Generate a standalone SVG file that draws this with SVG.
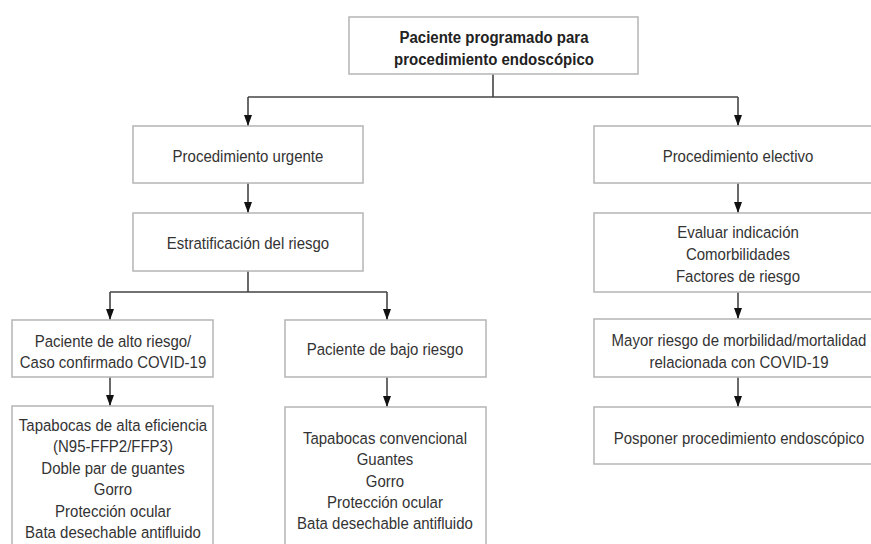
<svg xmlns="http://www.w3.org/2000/svg" width="871" height="544" viewBox="0 0 871 544">
<style>
.box{fill:#fff;stroke:#b9b9b9;stroke-width:1.6}
.t{font-family:"Liberation Sans",Arial,sans-serif;font-size:15px;fill:#333;text-anchor:middle;transform-box:fill-box;transform-origin:center;transform:scaleY(1.12)}
.b{font-weight:bold;font-size:15px;fill:#222}
.c{fill:none;stroke:#444;stroke-width:1.6}
</style>
<defs>
<marker id="ah" markerUnits="userSpaceOnUse" viewBox="0 0 11 8" refX="11" refY="4" markerWidth="11" markerHeight="8" orient="auto">
<path d="M0,0 L11,4 L0,8 z" fill="#111"/>
</marker>
</defs>
<rect width="871" height="544" fill="#fff"/>
<g id="connectors">
<path class="c" d="M493,74 V97"/>
<path class="c" d="M248,97 H738"/>
<path class="c" d="M248,97 V126" marker-end="url(#ah)"/>
<path class="c" d="M738,97 V126" marker-end="url(#ah)"/>
<path class="c" d="M248,183 V213" marker-end="url(#ah)"/>
<path class="c" d="M248,271 V292 M110,292 H387"/>
<path class="c" d="M110,292 V320" marker-end="url(#ah)"/>
<path class="c" d="M387,292 V320" marker-end="url(#ah)"/>
<path class="c" d="M110,377 V406" marker-end="url(#ah)"/>
<path class="c" d="M387,377 V407" marker-end="url(#ah)"/>
<path class="c" d="M738,183 V213" marker-end="url(#ah)"/>
<path class="c" d="M738,292 V319" marker-end="url(#ah)"/>
<path class="c" d="M738,377 V407" marker-end="url(#ah)"/>
</g>
<g id="n_inicio">
<rect class="box" x="349" y="17" width="289" height="57"/>
<text class="t b" x="494" y="42">Paciente programado para</text>
<text class="t b" x="494" y="64">procedimiento endoscópico</text>
</g>
<g id="n_urgente">
<rect class="box" x="133" y="126" width="230" height="57"/>
<text class="t" x="248" y="161">Procedimiento urgente</text>
</g>
<g id="n_estrat">
<rect class="box" x="133" y="213" width="230" height="58"/>
<text class="t" x="248" y="248">Estratificación del riesgo</text>
</g>
<g id="n_alto">
<rect class="box" x="12" y="320" width="201" height="57"/>
<text class="t" x="113" y="346">Paciente de alto riesgo/</text>
<text class="t" x="113" y="367">Caso confirmado COVID-19</text>
</g>
<g id="n_bajo">
<rect class="box" x="285" y="320" width="201" height="57"/>
<text class="t" x="385" y="354">Paciente de bajo riesgo</text>
</g>
<g id="n_epp_alto">
<rect class="box" x="12" y="406" width="201" height="150"/>
<text class="t" x="113" y="430">Tapabocas de alta eficiencia</text>
<text class="t" x="113" y="451">(N95-FFP2/FFP3)</text>
<text class="t" x="113" y="473">Doble par de guantes</text>
<text class="t" x="113" y="494">Gorro</text>
<text class="t" x="113" y="516">Protección ocular</text>
<text class="t" x="113" y="537">Bata desechable antifluido</text>
</g>
<g id="n_epp_bajo">
<rect class="box" x="285" y="407" width="201" height="150"/>
<text class="t" x="385" y="443">Tapabocas convencional</text>
<text class="t" x="385" y="464">Guantes</text>
<text class="t" x="385" y="486">Gorro</text>
<text class="t" x="385" y="507">Protección ocular</text>
<text class="t" x="385" y="528">Bata desechable antifluido</text>
</g>
<g id="n_electivo">
<rect class="box" x="594" y="126" width="290" height="57"/>
<text class="t" x="738" y="161">Procedimiento electivo</text>
</g>
<g id="n_evaluar">
<rect class="box" x="594" y="213" width="290" height="79"/>
<text class="t" x="738" y="237">Evaluar indicación</text>
<text class="t" x="738" y="259">Comorbilidades</text>
<text class="t" x="738" y="281">Factores de riesgo</text>
</g>
<g id="n_mayor">
<rect class="box" x="594" y="319" width="290" height="58"/>
<text class="t" x="739" y="345">Mayor riesgo de morbilidad/mortalidad</text>
<text class="t" x="739" y="367">relacionada con COVID-19</text>
</g>
<g id="n_posponer">
<rect class="box" x="594" y="407" width="290" height="57"/>
<text class="t" x="739" y="443">Posponer procedimiento endoscópico</text>
</g>
</svg>
